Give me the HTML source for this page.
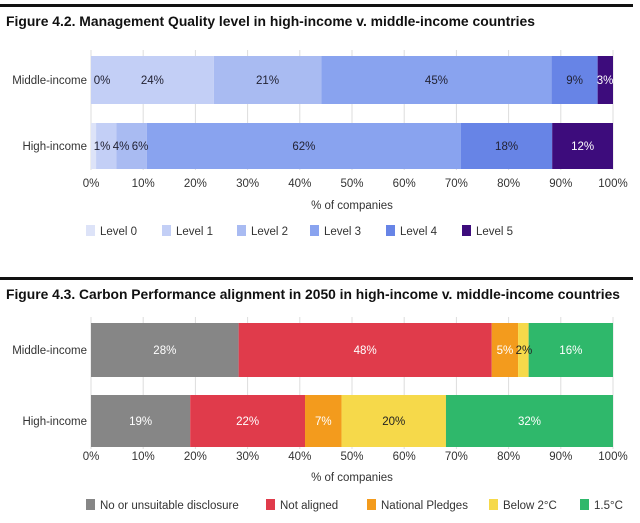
<!DOCTYPE html>
<html><head><meta charset="utf-8"><style>
body{margin:0;background:#fff;width:640px;height:518px;overflow:hidden;font-family:"Liberation Sans",sans-serif}
svg text{font-family:"Liberation Sans",sans-serif}
</style></head><body>
<svg id="s" width="640" height="518"></svg>
<script>
const groups1 = ["Middle-income","High-income"];
const levels1 = ["Level 0","Level 1","Level 2","Level 3","Level 4","Level 5"];
const mid1 = [0,24,21,45,9,3];
const high1 = [1,4,6,62,18,12];
const colors1 = ["#dde3f8","#c3cff6","#a9bbf2","#89a3ef","#6784e6","#3d0c7c"];
const txt1 = ["#223","#223","#223","#223","#223","#fff"];

const groups2 = ["Middle-income","High-income"];
const cats2 = ["No or unsuitable disclosure","Not aligned","National Pledges","Below 2°C","1.5°C"];
const mid2 = [28,48,5,2,16];
const high2 = [19,22,7,20,32];
const colors2 = ["#868686","#e03b4b","#f39b1d","#f6d94a","#2fb86b"];
const txt2 = ["#fff","#fff","#fff","#222","#fff"];

const ticks = [0,10,20,30,40,50,60,70,80,90,100];
const NS="http://www.w3.org/2000/svg";
const svg=document.getElementById('s');
function el(t,a,txt){const e=document.createElementNS(NS,t);for(const k in a)e.setAttribute(k,a[k]);if(txt!==undefined)e.textContent=txt;svg.appendChild(e);return e;}
const x0=91,x1=613;
function xs(p){return x0+(x1-x0)*p/100;}

function chart(cfg){
  let r=el('rect',{x:0,y:cfg.rule,width:633,height:3,fill:'#111'});
  
  
  let t=el('text',{x:6,y:cfg.titleY,'font-size':14,'font-weight':'bold',fill:'#111',textLength:cfg.titleLen,lengthAdjust:'spacingAndGlyphs'},cfg.title);
  
  
  ticks.forEach(v=>{
    let g=el('line',{x1:xs(v),x2:xs(v),y1:cfg.gridTop,y2:cfg.gridBot,stroke:'#ddd','stroke-width':1});
    
    
    let l=el('text',{x:xs(v),y:cfg.tickY,'font-size':11.5,fill:'#333','text-anchor':'middle'},v+'%');
    
    
  });
  let at=el('text',{x:(x0+x1)/2,y:cfg.axisY,'font-size':11.5,fill:'#333','text-anchor':'middle'},'% of companies');
  
  
  cfg.series.forEach((vals,i)=>{
    const tot=vals.reduce((a,b)=>a+b,0);
    const [yt,yb]=cfg.bars[i];
    let gl=el('text',{x:87,y:(yt+yb)/2+4,'font-size':11.5,fill:'#333','text-anchor':'end'},cfg.groups[i]);
    
    
    let c=0;const labs=[];
    vals.forEach((v,j)=>{
      const a=xs(c/tot*100),b=xs((c+v)/tot*100);c+=v;
      let rc=el('rect',{x:a,y:yt,width:Math.max(0,b-a),height:yb-yt,fill:cfg.colors[j]});
      
      
      labs.push([(a+b)/2,v,j]);
    });
    let prev=x0-8;
    labs.forEach(([cx,v,j])=>{
      cx=Math.max(cx,x0+10,prev+19);
      if(cx>x1-8)cx=x1-8;
      prev=cx;
      let lt=el('text',{x:cx,y:(yt+yb)/2+4,'font-size':11.5,fill:cfg.txt[j],'text-anchor':'middle'},v+'%');
      
      
    });
  });
  let lx=cfg.legX;
  cfg.cats.forEach((n,j)=>{
    let sw=el('rect',{x:lx,y:cfg.legY-6,width:9,height:11,fill:cfg.colors[j]});
    
    
    let lt=el('text',{x:lx+14,y:cfg.legY+4,'font-size':11.5,fill:'#333'},n);
    
    
    lx+=cfg.legGap[j];
  });
}
chart({id:'fig42',rule:4,titleY:26,titleLen:529,title:'Figure 4.2. Management Quality level in high-income v. middle-income countries',
 gridTop:50,gridBot:170,tickY:187,axisY:209,bars:[[56,104],[123,169]],groups:groups1,series:[mid1,high1],
 colors:colors1,txt:txt1,cats:levels1,legX:86,legY:231,legGap:[76,75,73,76,76,70]});
chart({id:'fig43',rule:277,titleY:299,titleLen:614,title:'Figure 4.3. Carbon Performance alignment in 2050 in high-income v. middle-income countries',
 gridTop:317,gridBot:449,tickY:460,axisY:481,bars:[[323,377],[395,447]],groups:groups2,series:[mid2,high2],
 colors:colors2,txt:txt2,cats:cats2,legX:86,legY:505,legGap:[180,101,122,91,80]});
</script>
</body></html>
